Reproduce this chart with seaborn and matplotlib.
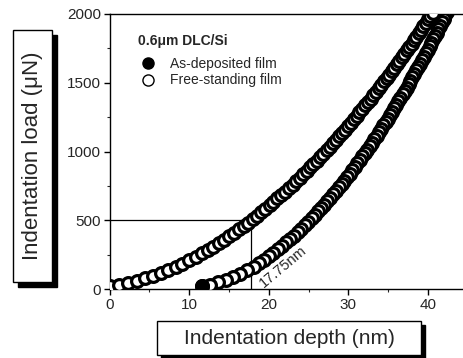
import matplotlib
matplotlib.use("Agg")
import matplotlib.pyplot as plt
import seaborn as sns
from matplotlib.lines import Line2D
from matplotlib.patches import Rectangle
from matplotlib.ticker import MultipleLocator

# free-standing film (left branch, open circles)
free_depth = [0.1, 1.2, 2.3, 3.4, 4.5, 5.5, 6.5, 7.4, 8.3,
              9.17, 10.02, 10.83, 11.60, 12.33, 13.04, 13.73, 14.38, 15.03, 15.65,
              16.25, 16.84, 17.41, 17.97, 18.52, 19.06, 19.58, 20.10, 20.60, 21.09,
              21.58, 22.06, 22.53, 22.99, 23.44, 23.89, 24.33, 24.77, 25.20, 25.62,
              26.04, 26.45, 26.86, 27.26, 27.66, 28.05, 28.44, 28.82, 29.20, 29.58,
              29.95, 30.32, 30.69, 31.05, 31.40, 31.76, 32.11, 32.46, 32.80, 33.14,
              33.48, 33.82, 34.15, 34.48, 34.81, 35.14, 35.46, 35.78, 36.09, 36.41,
              36.72, 37.03, 37.34, 37.65, 37.95, 38.26, 38.56, 38.85, 39.15, 39.44,
              39.73, 40.02, 40.31, 40.60]
free_load = [21, 32, 46, 62, 80, 98, 119, 138, 161,
             185, 210, 235, 260, 285, 310, 335, 360, 385, 410,
             435, 460, 485, 510, 535, 560, 585, 610, 635, 660,
             685, 710, 735, 760, 785, 810, 835, 860, 885, 910,
             935, 960, 985, 1010, 1035, 1060, 1085, 1110, 1135, 1160,
             1185, 1210, 1235, 1260, 1285, 1310, 1335, 1360, 1385, 1410,
             1435, 1460, 1485, 1510, 1535, 1560, 1585, 1610, 1635, 1660,
             1685, 1710, 1735, 1760, 1785, 1810, 1835, 1860, 1885, 1910,
             1935, 1960, 1985, 2010]

# as-deposited film (right branch)
dep_depth = [11.6, 12.6, 13.6, 14.6, 15.5, 16.4, 17.3, 18.1,
             18.76, 19.40, 20.01, 20.58, 21.14, 21.67, 22.19, 22.69, 23.17, 23.63,
             24.09, 24.53, 24.97, 25.39, 25.80, 26.20, 26.60, 26.98, 27.36, 27.73,
             28.10, 28.46, 28.81, 29.16, 29.50, 29.84, 30.17, 30.50, 30.82, 31.14,
             31.46, 31.77, 32.08, 32.38, 32.68, 32.97, 33.26, 33.55, 33.84, 34.12,
             34.40, 34.68, 34.95, 35.23, 35.50, 35.76, 36.03, 36.29, 36.55, 36.81,
             37.06, 37.31, 37.57, 37.81, 38.06, 38.30, 38.55, 38.79, 39.03, 39.26,
             39.50, 39.73, 39.97, 40.20, 40.42, 40.65, 40.88, 41.10, 41.32, 41.55,
             41.77, 41.98, 42.20, 42.42]
dep_load = [21, 34, 50, 70, 90, 113, 138, 165,
            190, 215, 240, 265, 290, 315, 340, 365, 390, 415,
            440, 465, 490, 515, 540, 565, 590, 615, 640, 665,
            690, 715, 740, 765, 790, 815, 840, 865, 890, 915,
            940, 965, 990, 1015, 1040, 1065, 1090, 1115, 1140, 1165,
            1190, 1215, 1240, 1265, 1290, 1315, 1340, 1365, 1390, 1415,
            1440, 1465, 1490, 1515, 1540, 1565, 1590, 1615, 1640, 1665,
            1690, 1715, 1740, 1765, 1790, 1815, 1840, 1865, 1890, 1915,
            1940, 1965, 1990, 2015]

mark_depth = 17.75
mark_load = 500

sns.set_style("ticks")
plt.rcParams['font.family'] = ['Liberation Sans', 'DejaVu Sans']

fig = plt.figure(figsize=(4.64, 3.58), dpi=100)
ax = fig.add_axes([0.236, 0.192, 0.760, 0.769])

mk = dict(marker='o', s=72, edgecolor='black', linewidth=2.3)
# right branch drawn from the top down so the circles overlap the other way
sns.scatterplot(x=dep_depth[::-1], y=dep_load[::-1], ax=ax, color='white', zorder=3, **mk)
sns.scatterplot(x=dep_depth[:1], y=dep_load[:1], ax=ax, color='black', zorder=4, **mk)
sns.scatterplot(x=free_depth, y=free_load, ax=ax, color='white', zorder=3, **mk)

ax.plot([0, mark_depth], [mark_load, mark_load], color='black', lw=0.9, zorder=2)
ax.plot([mark_depth, mark_depth], [0, mark_load], color='black', lw=0.9, zorder=2)
ax.text(21.8, 165, f"{mark_depth}nm", rotation=40, ha='center', va='center',
        fontsize=10.5, zorder=5)

ax.set_xlim(0, 44.3)
ax.set_ylim(0, 2000)
ax.xaxis.set_major_locator(MultipleLocator(10))
ax.xaxis.set_minor_locator(MultipleLocator(5))
ax.yaxis.set_major_locator(MultipleLocator(500))
ax.yaxis.set_minor_locator(MultipleLocator(250))
ax.tick_params(which='major', direction='out', length=4, width=1, labelsize=11,
               pad=2, color='black')
ax.tick_params(which='minor', direction='out', length=2, width=0.8)
ax.set_xlabel('')
ax.set_ylabel('')
for side in ['left', 'bottom', 'top']:
    ax.spines[side].set_color('black')
    ax.spines[side].set_linewidth(1.0)
ax.spines['right'].set_visible(False)

# legend: bold sample title, then the two series
ax.text(0.081, 0.902, '0.6\u03bcm DLC/Si', transform=ax.transAxes, ha='left',
        va='center', fontsize=10, fontweight='bold')
handles = [Line2D([], [], ls='', marker='o', ms=8, mfc='black', mec='black'),
           Line2D([], [], ls='', marker='o', ms=8, mfc='white', mec='black', mew=1)]
ax.legend(handles, ['As-deposited film', 'Free-standing film'],
          loc='upper left', bbox_to_anchor=(0.082, 0.845), frameon=False,
          fontsize=10, handlelength=1.4, handletextpad=0.9,
          labelspacing=0.2, borderpad=0, borderaxespad=0)

# boxed axis labels with drop shadow
def boxed_label(x0, y0, w, h, dx, dy, text, rot, size):
    fig.patches.append(Rectangle((x0 + dx, y0 - dy), w, h, transform=fig.transFigure,
                                 facecolor='black', edgecolor='black', zorder=1))
    fig.patches.append(Rectangle((x0, y0), w, h, transform=fig.transFigure,
                                 facecolor='white', edgecolor='black', lw=1.0, zorder=2))
    fig.text(x0 + w / 2, y0 + h / 2, text, rotation=rot, ha='center', va='center',
             fontsize=size, zorder=3)

boxed_label(13 / 464, 1 - 282 / 358, 39 / 464, 252 / 358, 5 / 464, 5 / 358,
            'Indentation load (\u03bcN)', 90, 16)
boxed_label(157 / 464, 1 - 355 / 358, 264 / 464, 34 / 358, 4 / 464, 4 / 358,
            'Indentation depth (nm)', 0, 15)

fig.savefig('out.png', dpi=100)
